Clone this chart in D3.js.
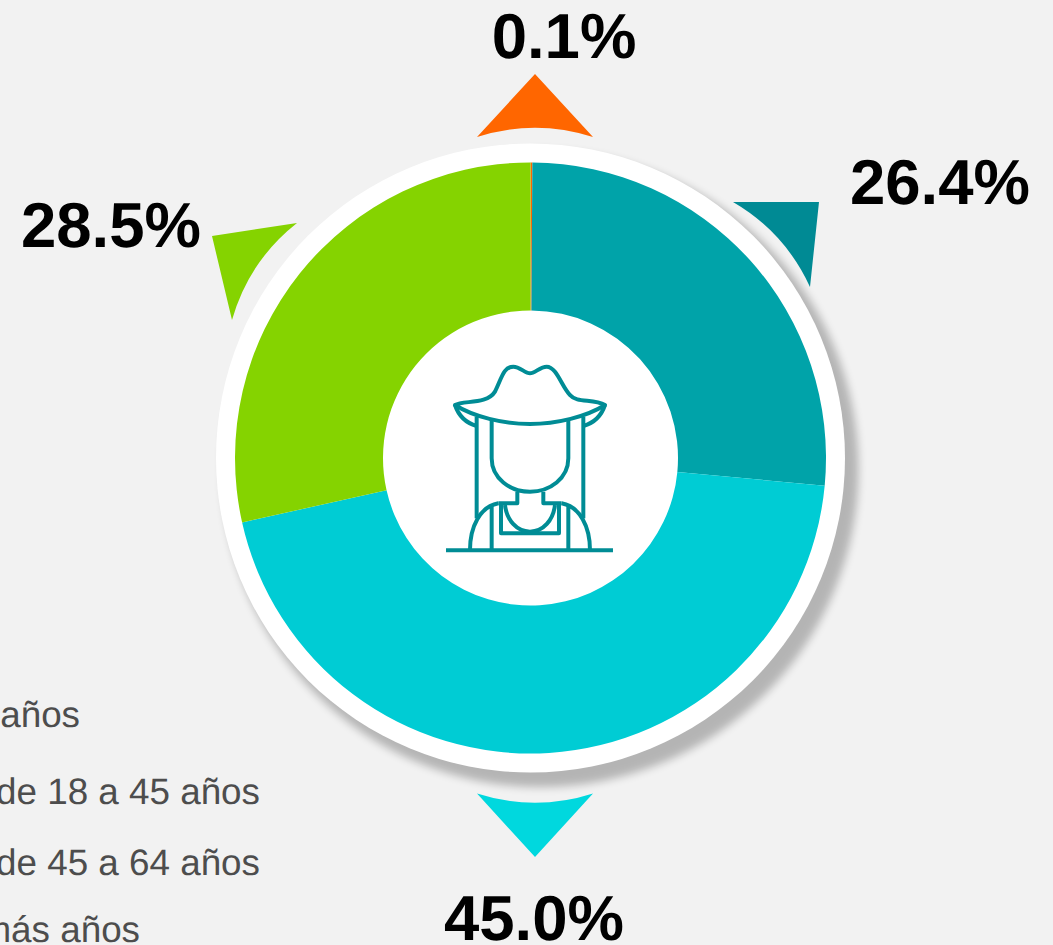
<!DOCTYPE html>
<html><head><meta charset="utf-8">
<style>html,body{margin:0;padding:0;background:#f2f2f2;overflow:hidden}svg{display:block}text{font-family:"Liberation Sans",Arial,sans-serif;text-rendering:geometricPrecision}</style>
<script src="https://cdn.jsdelivr.net/npm/d3@7/dist/d3.min.js"></script>
</head><body><svg id="c" width="1053" height="945"></svg>
<script>
const sliceNames = ["0.1%", "26.4%", "45.0%", "28.5%"];
const sliceValues = [0.1, 26.4, 45.0, 28.5];
const sliceColors = ["#ff6600", "#00a3a9", "#00ccd4", "#85d300"];
const pointerColors = ["#ff6600", "#008a94", "#00d8de", "#85d300"];
const legendLabels = ["años", "de 18 a 45 años", "de 45 a 64 años", "más años"];

// layout only
const W = 1053, H = 945, cx = 530.5, cy = 458;
const labelPos = [[564, 58], [940, 204], [534, 940], [111, 247]];
const pointerGeom = [
  {a:[477,137], tip:[535,74], b:[593,137], sweep:1},
  {a:[733,202], tip:[819,202], b:[810,287], sweep:1},
  {a:[477,793.5], tip:[535,857], b:[593,793.5], sweep:0},
  {a:[232,320], tip:[212,236], b:[297,223], sweep:1}
];
const legendPos = [[80,727],[260,804],[260,875],[140,942]];

const svg = d3.select("#c");
const defs = svg.append("defs");
defs.append("filter").attr("id","sh").attr("x","-10%").attr("y","-10%").attr("width","120%").attr("height","120%")
  .append("feGaussianBlur").attr("stdDeviation",4);

svg.append("rect").attr("width",W).attr("height",H).attr("fill","#f2f2f2");

// pointers
svg.append("g").selectAll("path").data(pointerGeom).join("path")
  .attr("fill",(d,i)=>pointerColors[i])
  .attr("d",d=>`M${d.a}L${d.tip}L${d.b}A${d.sweep?"190 190 0 0 0":"190 190 0 0 1"} ${d.a}Z`);

// ring and shadow
svg.append("circle").attr("cx",cx+10).attr("cy",cy+11).attr("r",318).attr("fill","#000").attr("opacity",0.25).attr("filter","url(#sh)");
svg.append("circle").attr("cx",cx).attr("cy",cy).attr("r",314.5).attr("fill","#fff");

// donut
const pie = d3.pie().sort(null)(sliceValues);
const arc = d3.arc().innerRadius(147.5).outerRadius(295.5);
svg.append("g").attr("transform",`translate(${cx},${cy})`)
  .selectAll("path").data(pie).join("path")
  .attr("d",arc).attr("fill",(d,i)=>sliceColors[i]);

// icon
const icon = svg.append("g").attr("transform","translate(430,350) scale(0.3333)")
  .attr("fill","none").attr("stroke","#008c95").attr("stroke-width",12).attr("stroke-linejoin","round");
[
 "M75,165C100,150 170,165 195,125C215,85 220,50 250,50C270,50 285,70 300,70C315,70 330,50 350,50C380,50 395,110 420,135C440,160 490,145 525,165C470,200 380,222 300,222C220,222 130,200 75,165Z",
 "M75,165C85,195 105,218 140,228","M525,165C515,195 495,218 460,228",
 "M140,200V505","M460,200V505",
 "M185,210V325C185,385 240,425 300,425C360,425 415,385 415,325V210",
 "M262,425V460H205","M340,425V460H395",
 "M120,600C120,530 150,470 205,460","M480,600C480,530 450,470 395,460",
 "M185,600V465","M415,600V465",
 "M213,460V550H387V460",
 "M225,465C230,510 260,545 300,545C340,545 370,510 375,465",
 "M48,601H549"
].forEach(d=>icon.append("path").attr("d",d));

// labels
svg.append("g").selectAll("text").data(sliceNames).join("text")
  .attr("x",(d,i)=>labelPos[i][0]).attr("y",(d,i)=>labelPos[i][1])
  .attr("text-anchor","middle").attr("font-size",63.5).attr("font-weight",700).attr("fill","#000").text(d=>d);

svg.append("g").selectAll("text").data(legendLabels).join("text")
  .attr("x",(d,i)=>legendPos[i][0]).attr("y",(d,i)=>legendPos[i][1])
  .attr("text-anchor","end").attr("font-size",36.8).attr("fill","#4d4d4d").text(d=>d);
</script></body></html>
